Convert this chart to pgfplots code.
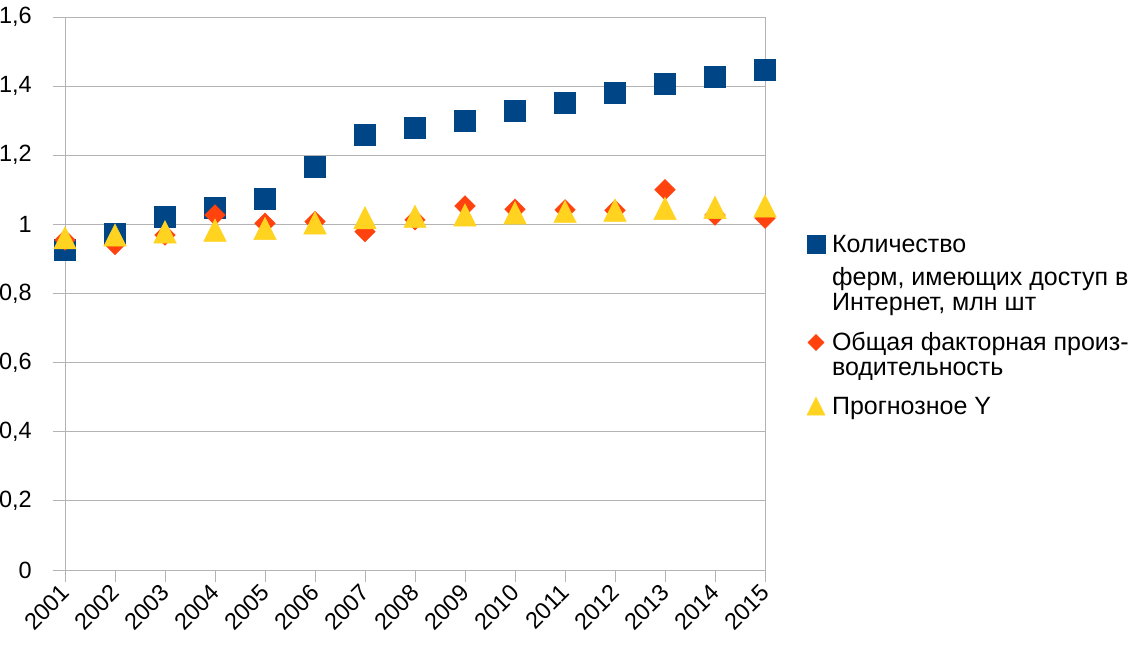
\documentclass[border=0pt]{standalone}
\usepackage{fontspec}
\setmainfont{Liberation Sans}
\usepackage{pgfplots}
\pgfplotsset{compat=1.18}
\definecolor{cblue}{HTML}{004586}
\definecolor{corange}{HTML}{FF420E}
\definecolor{cyellow}{HTML}{FFD320}
\definecolor{cgrid}{HTML}{B3B3B3}
\pgfplotsset{
  limg/.style={legend image code/.code={\path[draw=none,fill=none] (0pt,-#1) rectangle (18pt,18pt); \draw[##1] plot coordinates {(9pt,8.5pt)};}},
  spacer/.style={legend image code/.code={\path[draw=none,fill=none] (0pt,-#1) rectangle (18pt,18pt);}},
}
\begin{document}
\begin{tikzpicture}[x=1pt,y=1pt]
\useasboundingbox (-65,-75) rectangle (1082,570);
\begin{axis}[
  at={(0,0)}, anchor=south west,
  scale only axis, width=700pt, height=553pt,
  xmin=2001, xmax=2015, ymin=0, ymax=1.6,
  xtick={2001,2002,2003,2004,2005,2006,2007,2008,2009,2010,2011,2012,2013,2014,2015},
  ytick={0,0.2,0.4,0.6,0.8,1,1.2,1.4,1.6},
  axis line style={cgrid, line width=0.8pt},
  ymajorgrids, grid style={cgrid, line width=0.8pt},
  tick style={cgrid, line width=0.8pt},
  major tick length=12pt, tick align=outside,
  xtick pos=bottom, ytick pos=left,
  tick label style={font=\fontsize{23.5}{25}\selectfont, text=black},
  yticklabel style={anchor=east, inner sep=0pt, xshift=-21pt},
  xticklabel style={rotate=45, anchor=north east, inner sep=0pt, xshift=-4.3pt, yshift=3.4pt},
  /pgf/number format/.cd, use comma, 1000 sep={}, assume math mode=true,
  /pgfplots/.cd,
  clip=false,
  legend style={draw=none, fill=none, at={(1.06,0.6072)}, anchor=north west,
    inner sep=0pt, outer sep=0pt, row sep=0pt, column sep=7pt,
    nodes={anchor=base west, inner sep=0pt, outer sep=0pt},
    font=\fontsize{25}{26}\selectfont},
  legend cell align=left,
]
\addplot[only marks, mark=square*, mark size=10.5pt, color=cblue,
  legend image post style={mark size=9pt}, limg=15.3pt] coordinates {
(2001,0.926) (2002,0.974) (2003,1.022) (2004,1.047) (2005,1.073)
(2006,1.167) (2007,1.259) (2008,1.279) (2009,1.299) (2010,1.328)
(2011,1.353) (2012,1.382) (2013,1.408) (2014,1.427) (2015,1.447)};
\addlegendentry{Количество}
\addlegendimage{spacer=7pt}
\addlegendentry{ферм, имеющих доступ в}
\addlegendimage{spacer=22pt}
\addlegendentry{Интернет, млн шт}
\addplot[only marks, mark=square*, mark size=7.3pt, color=corange, mark options={rotate=45},
  legend image post style={mark size=5.7pt}, limg=6.3pt] coordinates {
(2001,0.955) (2002,0.942) (2003,0.969) (2004,1.027) (2005,1.003)
(2006,1.008) (2007,0.979) (2008,1.013) (2009,1.053) (2010,1.044)
(2011,1.042) (2012,1.041) (2013,1.100) (2014,1.027) (2015,1.018)};
\addlegendentry{Общая факторная произ-}
\addlegendimage{spacer=21pt}
\addlegendentry{водительность}
\addplot[only marks, mark=triangle*, mark size=13pt, color=cyellow, mark options={yshift=-3.3pt, yscale=1.15},
  legend image post style={mark size=10.4pt}, limg=7pt] coordinates {
(2001,0.960) (2002,0.968) (2003,0.977) (2004,0.982) (2005,0.987)
(2006,1.003) (2007,1.018) (2008,1.022) (2009,1.026) (2010,1.032)
(2011,1.036) (2012,1.040) (2013,1.045) (2014,1.048) (2015,1.052)};
\addlegendentry{Прогнозное Y}
\end{axis}
\end{tikzpicture}
\end{document}
